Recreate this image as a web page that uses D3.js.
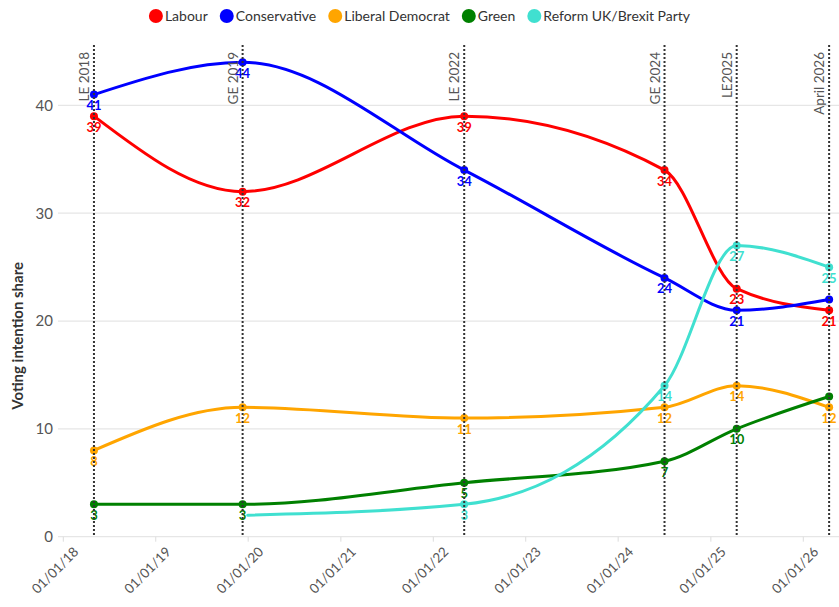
<!DOCTYPE html>
<html>
<head>
<meta charset="utf-8">
<script src="https://cdn.jsdelivr.net/npm/d3@7"></script>
<style>
  html, body { margin: 0; padding: 0; background: #fff; }
  svg { display: block; font-family: Lato, "Open Sans", sans-serif; }
</style>
</head>
<body>
<svg id="chart" width="839" height="607"></svg>
<script>
// ---------- DATA ----------
const eventDates  = ["2018-05-04", "2019-12-12", "2022-05-05", "2024-07-04", "2025-04-15", "2026-04-15"];
const eventLabels = ["LE 2018", "GE 2019", "LE 2022", "GE 2024", "LE2025", "April 2026"];

const labour       = [39, 32, 39, 34, 23, 21];
const conservative = [41, 44, 34, 24, 21, 22];
const libDem       = [8, 12, 11, 12, 14, 12];
const green        = [3, 3, 5, 7, 10, 13];

const reformDates  = ["2020-01-01", "2022-05-05", "2024-07-04", "2025-04-15", "2026-04-15"];
const reform       = [2, 3, 14, 27, 25];

const seriesNames  = ["Labour", "Conservative", "Liberal Democrat", "Green", "Reform UK/Brexit Party"];
const seriesColors = ["red", "blue", "orange", "green", "turquoise"];

// indices of points whose value label / marker is not shown in the original
const hiddenLabels  = { "Conservative": [5], "Green": [5], "Reform UK/Brexit Party": [0] };
const hiddenMarkers = { "Reform UK/Brexit Party": [0] };

const xTickDates = ["2018-01-01", "2019-01-01", "2020-01-01", "2021-01-01", "2022-01-01",
                    "2023-01-01", "2024-01-01", "2025-01-01", "2026-01-01"];
const yTicks = [0, 10, 20, 30, 40];
const xDomain = ["2017-12-13", "2026-05-24"];
const yDomain = [0, 45.6];
const yTitle = "Voting intention share";

// ---------- BUILD ----------
(function () {
const parse = d3.timeParse("%Y-%m-%d");
const fmt = d3.timeFormat("%d/%m/%y");

const seriesValues = [labour, conservative, libDem, green, reform];
const seriesDates  = [eventDates, eventDates, eventDates, eventDates, reformDates];
const series = seriesNames.map((name, i) => ({
  name, color: seriesColors[i],
  points: seriesValues[i].map((v, j) => ({ date: parse(seriesDates[i][j]), value: v, idx: j }))
}));

const svg = d3.select("#chart");
const pLeft = 58, pRight = 839, pTop = 45, pBottom = 536.7;

const x = d3.scaleTime().domain(xDomain.map(parse)).range([pLeft, pRight]);
const y = d3.scaleLinear().domain(yDomain).range([pBottom, pTop]);

// gridlines
svg.append("g").selectAll("line").data(yTicks).join("line")
  .attr("x1", pLeft).attr("x2", pRight)
  .attr("y1", d => y(d)).attr("y2", d => y(d))
  .attr("stroke", "#e6e6e6").attr("stroke-width", 1.2);

// y axis labels
const yAxis = svg.append("g").attr("transform", `translate(${pLeft},0)`)
  .call(d3.axisLeft(y).tickValues(yTicks).tickSize(0).tickPadding(5));
yAxis.select(".domain").remove();
yAxis.selectAll("text").attr("font-size", 15).attr("fill", "#555")
  .attr("font-family", "Lato, sans-serif");

// y title
svg.append("text")
  .attr("transform", `translate(23,${(pTop + pBottom) / 2 + 45}) rotate(-90)`)
  .attr("text-anchor", "middle")
  .attr("font-size", 15).attr("font-weight", "bold").attr("fill", "#333")
  .text(yTitle);

// x axis
const xAxis = svg.append("g").attr("transform", `translate(0,${pBottom})`)
  .call(d3.axisBottom(x).tickValues(xTickDates.map(parse)).tickFormat(fmt).tickSize(5).tickPadding(4));
xAxis.select(".domain").remove();
xAxis.selectAll(".tick line").attr("stroke", "#ddd");
xAxis.selectAll("text")
  .attr("font-size", 13.5).attr("fill", "#555")
  .attr("font-family", "Lato, sans-serif")
  .attr("text-anchor", "end")
  .attr("dy", "0.7em")
  .attr("transform", "translate(3,3) rotate(-45)");

// lines
const line = d3.line().x(d => x(d.date)).y(d => y(d.value)).curve(d3.curveMonotoneX);
const gSeries = svg.append("g");
series.forEach(s => {
  gSeries.append("path").datum(s.points)
    .attr("d", line).attr("fill", "none")
    .attr("stroke", s.color).attr("stroke-width", 3)
    .attr("stroke-linejoin", "round").attr("stroke-linecap", "round");
});
series.forEach(s => {
  const hm = hiddenMarkers[s.name] || [];
  gSeries.append("g").selectAll("circle").data(s.points.filter(p => !hm.includes(p.idx))).join("circle")
    .attr("cx", d => x(d.date)).attr("cy", d => y(d.value)).attr("r", 4)
    .attr("fill", s.color);
});
series.forEach(s => {
  const hl = hiddenLabels[s.name] || [];
  gSeries.append("g").selectAll("text").data(s.points.filter(p => !hl.includes(p.idx))).join("text")
    .attr("x", d => x(d.date)).attr("y", d => y(d.value) + 15.5)
    .attr("text-anchor", "middle")
    .attr("font-size", 13).attr("font-weight", "bold")
    .attr("fill", s.color)
    .text(d => d.value);
});

// event vertical lines
const gEv = svg.append("g");
eventDates.forEach((d, i) => {
  const ex = x(parse(d));
  gEv.append("line")
    .attr("x1", ex).attr("x2", ex).attr("y1", pTop).attr("y2", pBottom)
    .attr("stroke", "#333").attr("stroke-width", 2).attr("stroke-dasharray", "2,2");
  gEv.append("text")
    .attr("transform", `translate(${ex - 5},52) rotate(-90)`)
    .attr("text-anchor", "end")
    .attr("font-size", 13.5).attr("fill", "#555")
    .text(eventLabels[i]);
});

// legend
const legend = svg.append("g");
let lx = 0;
seriesNames.forEach((name, i) => {
  const g = legend.append("g").attr("transform", `translate(${lx},0)`);
  g.append("circle").attr("cx", 7).attr("cy", 0).attr("r", 7).attr("fill", seriesColors[i]);
  const t = g.append("text").attr("x", 16).attr("y", 5).attr("font-size", 14).attr("fill", "#333").text(name);
  const w = t.node().getComputedTextLength();
  lx += 16 + w + 12;
});
const totalW = lx - 12;
legend.attr("transform", `translate(${(839 - totalW) / 2},16)`);
})();
</script>
</body>
</html>
